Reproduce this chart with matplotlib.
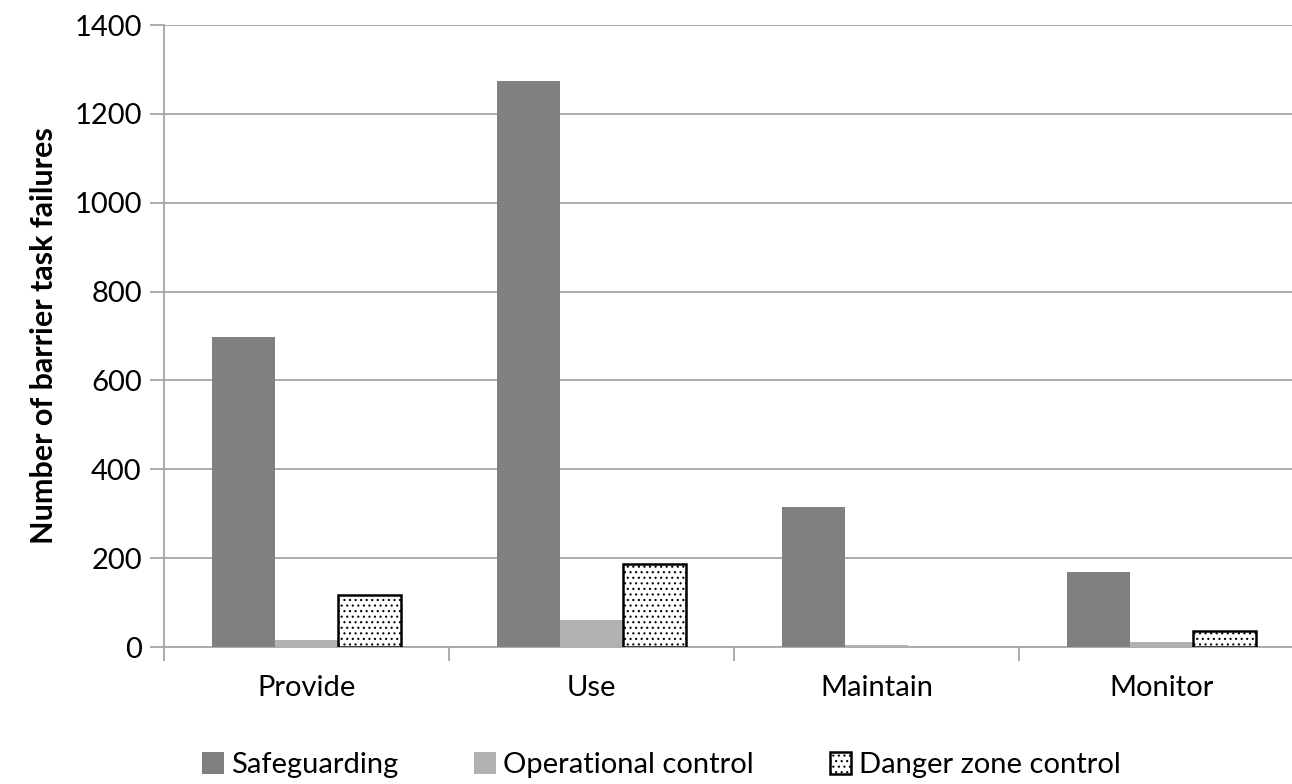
import matplotlib
matplotlib.use("Agg")
import matplotlib.pyplot as plt
import numpy as np

plt.rcParams['font.family'] = ['Lato', 'DejaVu Sans']
plt.rcParams['hatch.linewidth'] = 0.8

stages = ["Provide", "Use", "Maintain", "Monitor"]
safeguarding = [697, 1274, 315, 169]
operational = [15, 61, 5, 11]
danger_zone = [117, 187, 0, 36]
yticks = [0, 200, 400, 600, 800, 1000, 1200, 1400]

fig = plt.figure(figsize=(12.92, 7.84), dpi=100)
ax = fig.add_axes([164 / 1292, 1 - 647 / 784, 1140 / 1292, 622 / 784])

x = np.arange(len(stages))
w = 0.221
grid_c = "#a6a6a6"

ax.bar(x - w, safeguarding, w, color="#808080", label="Safeguarding", zorder=3)
ax.bar(x, operational, w, color="#b2b2b2", label="Operational control", zorder=3)
ax.bar([i + w for i, v in zip(x, danger_zone) if v > 0],
       [v for v in danger_zone if v > 0], w, facecolor="white",
       edgecolor="black", hatch="...", linewidth=1.8,
       label="Danger zone control", zorder=3)

ax.set_xlim(-0.5, len(stages) - 0.5)
ax.set_ylim(0, 1400)
ax.set_yticks(yticks)
ax.yaxis.grid(True, color=grid_c, linewidth=1.3, zorder=0)
ax.set_axisbelow(True)

ax.set_xticks(x)
ax.set_xticklabels(stages)
ax.set_xticks(np.arange(len(stages) + 1) - 0.5, minor=True)
ax.tick_params(axis="x", which="major", length=0, pad=20, labelsize=21)
ax.tick_params(axis="x", which="minor", length=10, color=grid_c, width=1.3)
ax.tick_params(axis="y", length=10, color=grid_c, width=1.3, labelsize=21, pad=6)

for s in ["top", "right"]:
    ax.spines[s].set_visible(False)
for s in ["left", "bottom"]:
    ax.spines[s].set_color(grid_c)
    ax.spines[s].set_linewidth(1.3)

ax.set_ylabel("Number of barrier task failures", fontsize=22, fontweight="bold", labelpad=12)

ax.legend(loc="center", bbox_to_anchor=(0.436, -0.19), ncol=3,
          frameon=False, fontsize=21, handlelength=0.75, handleheight=0.75,
          handletextpad=0.25, columnspacing=2.6)

fig.savefig("out.png", dpi=100)
